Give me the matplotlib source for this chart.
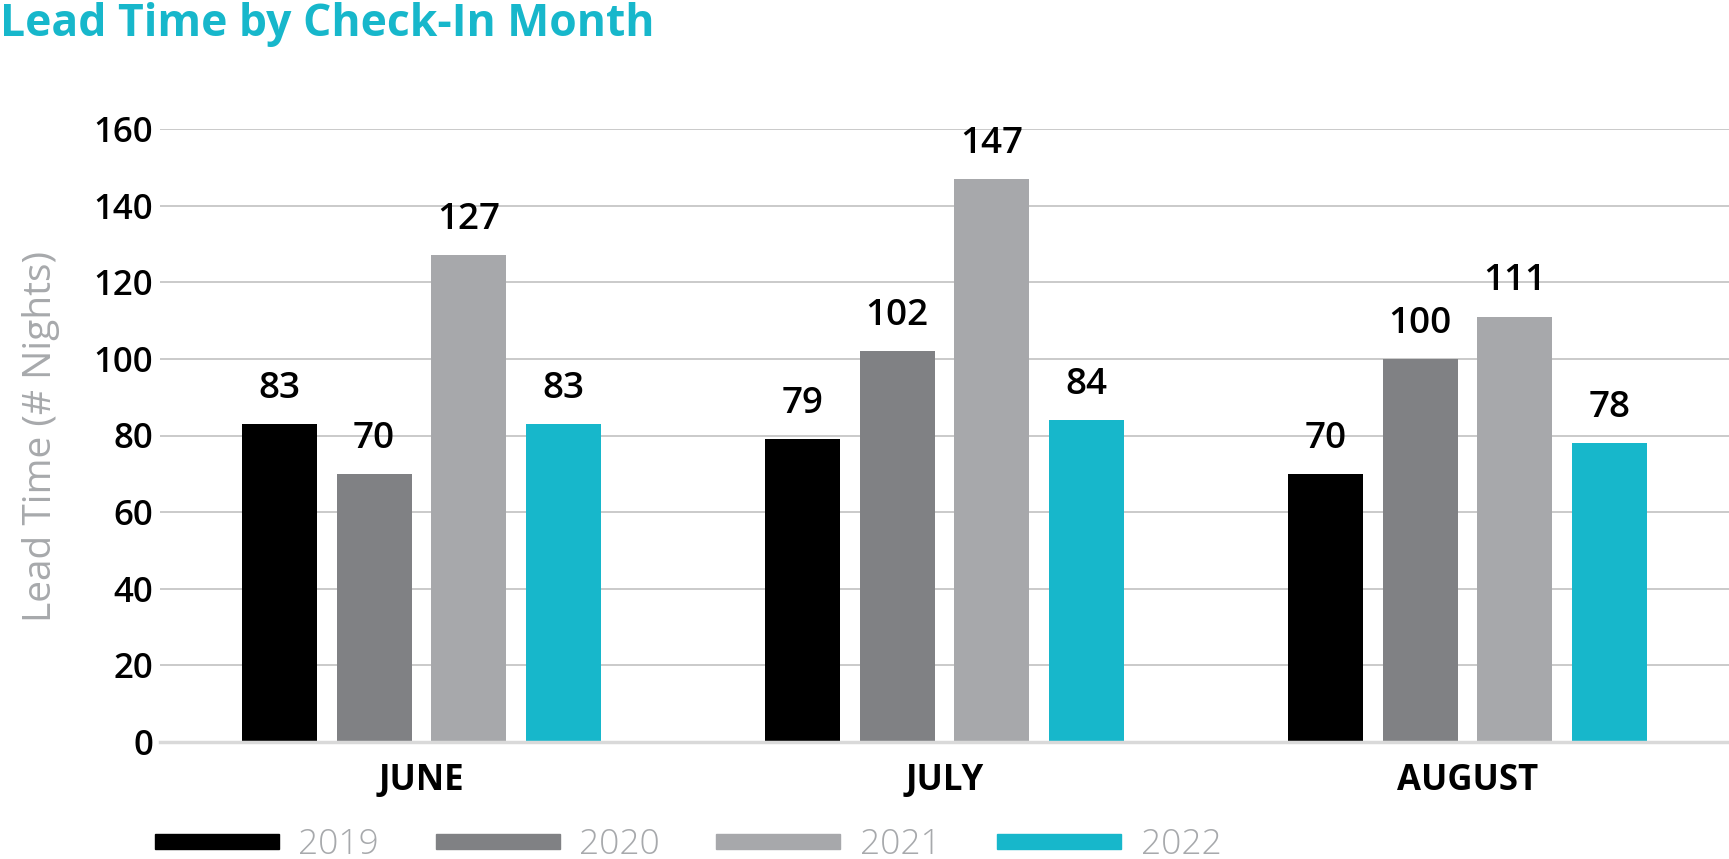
import numpy as np
import matplotlib
matplotlib.use("Agg")
import matplotlib.pyplot as plt
import matplotlib.patches as mpatches

# data
months = ["JUNE", "JULY", "AUGUST"]
years = ["2019", "2020", "2021", "2022"]
lead_2019 = [83, 79, 70]
lead_2020 = [70, 102, 100]
lead_2021 = [127, 147, 111]
lead_2022 = [83, 84, 78]
series = [lead_2019, lead_2020, lead_2021, lead_2022]
yticks = [0, 20, 40, 60, 80, 100, 120, 140, 160]

colors = ["#000000", "#808184", "#a7a8ab", "#17b7cb"]
teal = "#17b7cb"
light_gray = "#a7a9ac"

plt.rcParams["font.family"] = ["Open Sans", "DejaVu Sans"]

W, H = 1729, 859
fig = plt.figure(figsize=(W / 100, H / 100), dpi=100)
ax = fig.add_axes([160 / W, 1 - 742 / H, 1 - 160 / W, (742 - 129) / H])

x = np.arange(len(months))
bar_w = 0.143
step = 0.181
offsets = (np.arange(len(years)) - 1.5) * step

for i, (vals, col) in enumerate(zip(series, colors)):
    bars = ax.bar(x + offsets[i], vals, width=bar_w, color=col, zorder=3)
    for b, v in zip(bars, vals):
        ax.text(b.get_x() + b.get_width() / 2, v + 4.5, str(v),
                ha="center", va="bottom", fontsize=26.5, fontweight="semibold",
                color="black", clip_on=False)

ax.set_xlim(-0.5, 2.5)
ax.set_ylim(0, 160)
ax.set_yticks(yticks)
ax.set_xticks(x)
ax.set_xticklabels(months, fontsize=25, fontweight="bold")
ax.tick_params(axis="y", length=0, pad=5, labelsize=25)
ax.tick_params(axis="x", length=0, pad=15)
for lbl in ax.get_yticklabels():
    lbl.set_fontweight("semibold")

ax.grid(axis="y", color="#c6c6c6", linewidth=1.3, zorder=0)
for s in ["top", "right", "left"]:
    ax.spines[s].set_visible(False)
ax.spines["bottom"].set_color("#d9d9d9")
ax.spines["bottom"].set_linewidth(2.5)
ax.spines["bottom"].set_zorder(4)

fig.text(41 / W, 1 - 436 / H, "Lead Time (# Nights)", rotation=90,
         ha="center", va="center", fontsize=28, color=light_gray)

fig.text(0, 1 - 2 / H, "Lead Time by Check-In Month", ha="left", va="top",
         fontsize=32, fontweight="bold", color=teal)

handles = [mpatches.Patch(color=c, label=y) for c, y in zip(colors, years)]
leg = fig.legend(handles=handles, loc="center left", ncol=4,
                 bbox_to_anchor=(137 / W, 1 - 845 / H), frameon=False,
                 fontsize=25.5, handlelength=3.5, handleheight=0.3,
                 handletextpad=0.55, columnspacing=1.6, borderpad=0)
for t in leg.get_texts():
    t.set_color(light_gray)
    t.set_fontweight("light")

fig.savefig("out.png", dpi=100)
